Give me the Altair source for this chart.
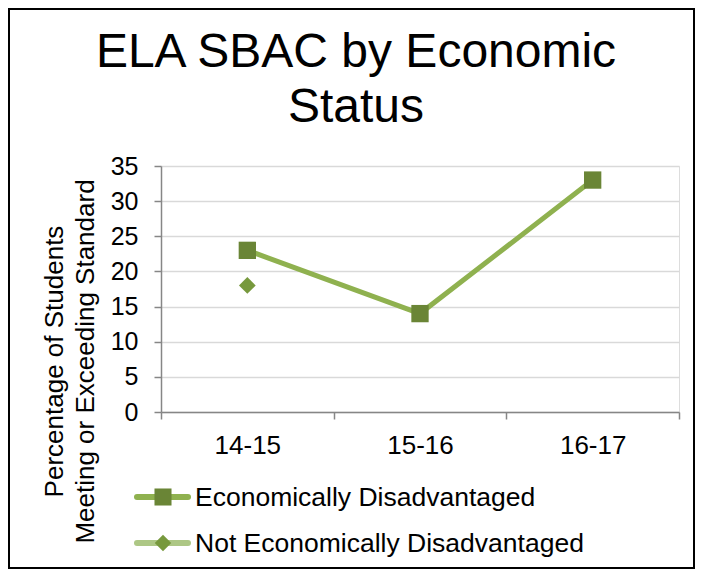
import altair as alt
import pandas as pd

# ---- data ----
years = ["14-15", "15-16", "16-17"]
econ_dis = [23, 14, 33]            # Economically Disadvantaged
not_econ_dis = [18, None, None]    # Not Economically Disadvantaged
series_names = ["Economically Disadvantaged", "Not Economically Disadvantaged"]
title_lines = ["ELA SBAC by Economic", "Status"]
y_title_lines = ["Percentage of Students", "Meeting or Exceeding Standard"]
y_ticks = [0, 5, 10, 15, 20, 25, 30, 35]

FONT = "Liberation Sans"
LINE_ED = "#8FB14F"
MARK_ED = "#6A8536"
LINE_NED = "#ADC785"
MARK_NED = "#77993D"
AXIS_GRAY = "#868686"
GRID_GRAY = "#D9D9D9"

rows = []
for i, y in enumerate(years):
    rows.append({"year": y, "series": series_names[0], "value": econ_dis[i]})
    if not_econ_dis[i] is not None:
        rows.append({"year": y, "series": series_names[1], "value": not_econ_dis[i]})
df = pd.DataFrame(rows)

W, H = 518, 246

x_enc = alt.X(
    "year:N",
    sort=years,
    bandPosition=0.5,
    scale=alt.Scale(type="band", domain=years, paddingInner=0, paddingOuter=0),
    axis=alt.Axis(
        title=None, labelAngle=0, labelFontSize=26, labelFont=FONT, labelColor="black",
        tickBand="extent", tickSize=7, tickColor=AXIS_GRAY, tickWidth=1.5,
        domainColor=AXIS_GRAY, domainWidth=1.5, labelPadding=13, grid=False,
    ),
)
y_enc = alt.Y(
    "value:Q",
    scale=alt.Scale(domain=[0, 35], nice=False, zero=True),
    axis=alt.Axis(
        values=y_ticks, title=y_title_lines, titleFontSize=26, titleFont=FONT,
        titleFontWeight="normal", titleColor="black", titleAngle=270,
        titleX=-99, titleY=195, titleAlign="center", titleBaseline="alphabetic",
        titleLineHeight=31,
        labelFontSize=25, labelFont=FONT, labelColor="black", labelPadding=16,
        tickSize=7, tickColor=AXIS_GRAY, tickWidth=1.5,
        domainColor=AXIS_GRAY, domainWidth=1.5,
        grid=True, gridColor=GRID_GRAY, gridWidth=1.5,
    ),
)

base = alt.Chart(df)

line_ed = base.transform_filter(alt.datum.series == series_names[0]).mark_line(
    color=LINE_ED, strokeWidth=5
).encode(x=x_enc, y=y_enc)
pts_ed = base.transform_filter(alt.datum.series == series_names[0]).mark_point(
    shape="square", filled=True, size=300, color=MARK_ED, opacity=1
).encode(x=x_enc, y=y_enc)
line_ned = base.transform_filter(alt.datum.series == series_names[1]).mark_line(
    color=LINE_NED, strokeWidth=5
).encode(x=x_enc, y=y_enc)
pts_ned = base.transform_filter(alt.datum.series == series_names[1]).mark_point(
    shape="diamond", filled=True, size=280, color=MARK_NED, opacity=1
).encode(x=x_enc, y=y_enc)

# ---- manual legend ----
leg_df = pd.DataFrame({"series": series_names})
legend_layers = []
leg_specs = [
    (series_names[0], 331, LINE_ED, MARK_ED, "square", 290),
    (series_names[1], 377, LINE_NED, MARK_NED, "diamond", 270),
]
for name, ly, lc, mc, shp, sz in leg_specs:
    src = alt.Chart(leg_df).transform_filter(alt.datum.series == name)
    legend_layers.append(
        src.mark_rule(color=lc, strokeWidth=6, strokeCap="round").encode(
            x=alt.value(-24), x2=alt.value(27), y=alt.value(ly)
        )
    )
    legend_layers.append(
        src.mark_point(shape=shp, filled=True, size=sz, color=mc, opacity=1).encode(
            x=alt.value(2), y=alt.value(ly)
        )
    )
    legend_layers.append(
        src.mark_text(align="left", baseline="middle", fontSize=26.5, font=FONT, color="black").encode(
            x=alt.value(34), y=alt.value(ly + 1), text="series:N"
        )
    )

# ---- title (two lines) ----
title_df = pd.DataFrame({"t": [0]})
title_layer = alt.Chart(title_df).mark_text(
    align="center", baseline="alphabetic", fontSize=48, font=FONT, color="black",
    lineHeight=55,
).encode(x=alt.value(195), y=alt.value(-99), text=alt.value(title_lines))

# ---- outer frame ----
frame = alt.Chart(title_df).mark_rect(
    filled=False, stroke="black", strokeWidth=2, fill=None
).encode(x=alt.value(-152), x2=alt.value(533), y=alt.value(-157), y2=alt.value(402))

chart = alt.layer(
    line_ed, pts_ed, line_ned, pts_ned, *legend_layers, title_layer, frame
).properties(
    width=W, height=H,
    autosize=alt.AutoSizeParams(type="none"),
    padding={"left": 153, "top": 158, "right": 16, "bottom": 157},
).configure_view(stroke=None).configure(background="white")

chart.save("out.html", embed_options={"renderer": "svg", "actions": False})
